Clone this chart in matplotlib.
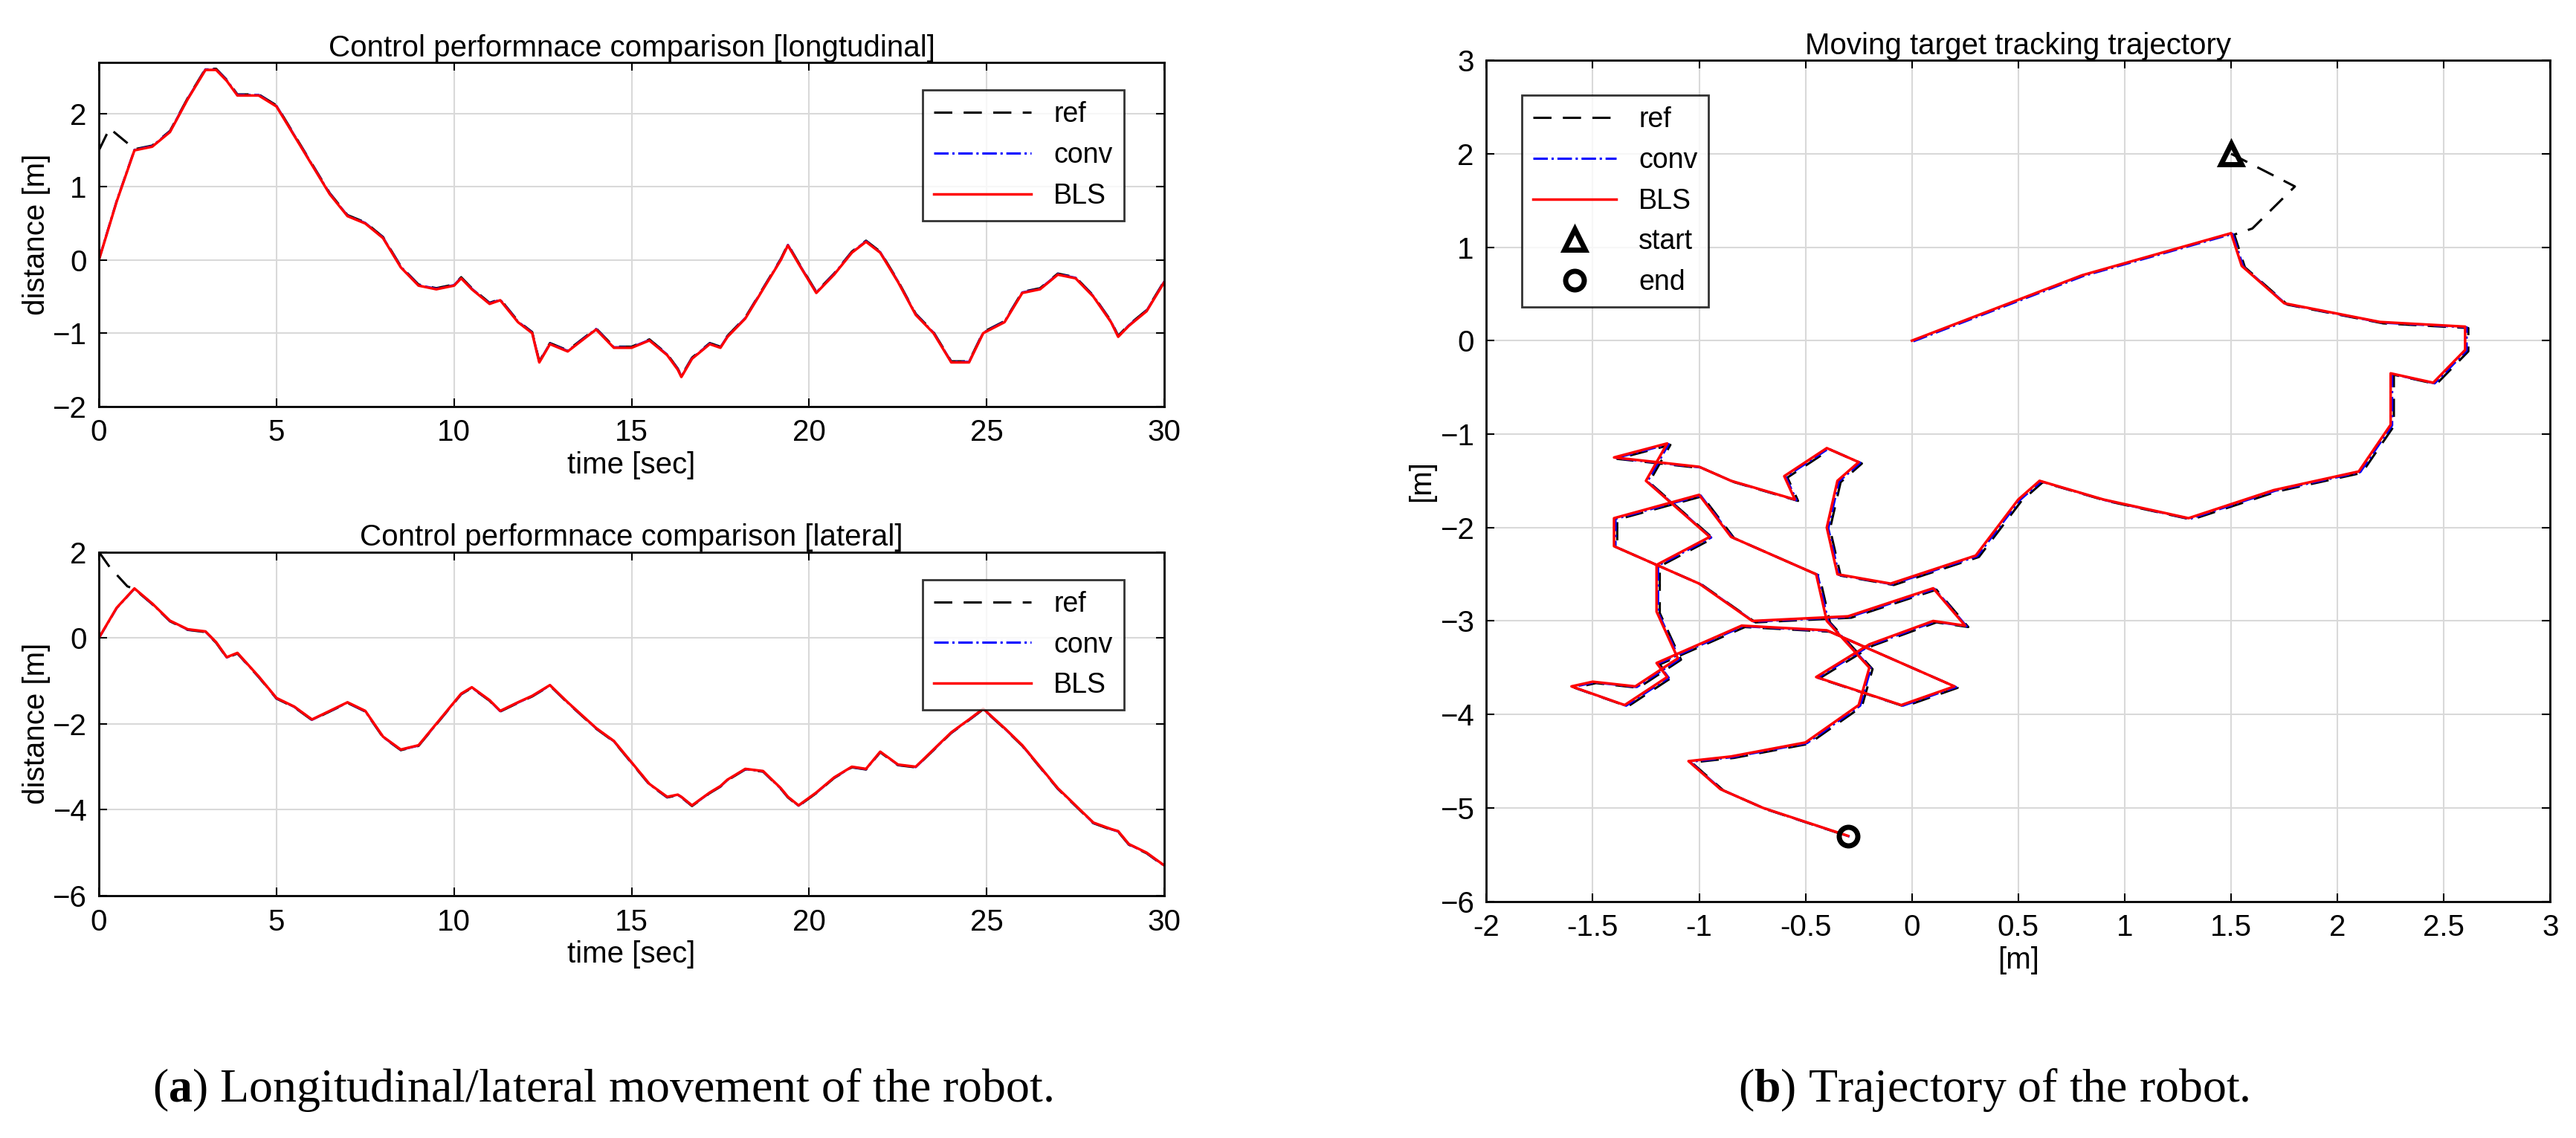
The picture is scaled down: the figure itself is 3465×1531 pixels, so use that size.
import matplotlib
matplotlib.use('Agg')
import matplotlib.pyplot as plt
import numpy as np

# time keypoints [sec] with longitudinal (x) and lateral (y) positions [m]
t = [0, 0.5, 1, 1.5, 2, 2.5, 3, 3.3, 3.6, 3.9, 4.5, 5, 5.5, 6, 6.5, 7, 7.5, 8, 8.5, 9,
     9.5, 10, 10.2, 10.5, 11, 11.3, 11.8, 12.2, 12.4, 12.7, 13.2, 13.6, 14, 14.5, 15,
     15.5, 16, 16.3, 16.4, 16.7, 17.2, 17.5, 17.7, 18.2, 18.7, 19.2, 19.4, 19.7, 20.2,
     20.7, 21.2, 21.6, 22, 22.5, 23, 23.5, 24, 24.5, 24.9, 25.5, 26, 26.5, 27, 27.5,
     28, 28.5, 28.7, 29, 29.5, 30]
x_bls = [0, 0.8, 1.5, 1.55, 1.75, 2.2, 2.6, 2.6, 2.45, 2.25, 2.25, 2.1, 1.7, 1.3, 0.9,
         0.6, 0.5, 0.3, -0.1, -0.35, -0.4, -0.35, -0.25, -0.4, -0.6, -0.55, -0.85, -1.0,
         -1.4, -1.15, -1.25, -1.1, -0.95, -1.2, -1.2, -1.1, -1.3, -1.5, -1.6, -1.35,
         -1.15, -1.2, -1.05, -0.8, -0.4, 0.0, 0.2, -0.05, -0.45, -0.2, 0.1, 0.25, 0.1,
         -0.3, -0.75, -1.0, -1.4, -1.4, -1.0, -0.85, -0.45, -0.4, -0.2, -0.25, -0.5,
         -0.85, -1.05, -0.9, -0.7, -0.3]
y_bls = [0, 0.7, 1.15, 0.8, 0.4, 0.2, 0.15, -0.1, -0.45, -0.35, -0.9, -1.4, -1.6, -1.9,
         -1.7, -1.5, -1.7, -2.3, -2.6, -2.5, -2.0, -1.5, -1.3, -1.15, -1.45, -1.7, -1.5,
         -1.35, -1.25, -1.1, -1.5, -1.8, -2.1, -2.4, -2.9, -3.4, -3.7, -3.65, -3.7, -3.9,
         -3.6, -3.45, -3.3, -3.05, -3.1, -3.5, -3.7, -3.9, -3.6, -3.25, -3.0, -3.05,
         -2.65, -2.95, -3.0, -2.6, -2.2, -1.9, -1.65, -2.1, -2.5, -3.0, -3.5, -3.9, -4.3,
         -4.45, -4.5, -4.8, -5.0, -5.3]
# reference starts elsewhere and meets the robot path after ~1 s
t_ref_start = [0, 0.3, 0.8]
x_ref_start = [1.5, 1.8, 1.6]
y_ref_start = [2.0, 1.65, 1.2]

t_ref = t_ref_start + t[2:]
x_ref = x_ref_start + [v + 0.015 for v in x_bls[2:]]
y_ref = y_ref_start + [v - 0.015 for v in y_bls[2:]]
x_conv = [v + 0.007 for v in x_bls]
y_conv = [v - 0.007 for v in y_bls]

plt.rcParams['font.family'] = ['Liberation Sans', 'DejaVu Sans']
plt.rcParams['mathtext.fontset'] = 'custom'
plt.rcParams['mathtext.bf'] = 'Liberation Serif:bold'
fs = 29

fig = plt.figure(figsize=(34.65, 15.31), dpi=100)


def style(ax):
    ax.grid(True, color='#d9d9d9', linewidth=1.5)
    ax.set_axisbelow(True)
    ax.tick_params(labelsize=fs, direction='in', length=8, width=1.5, top=True, right=True, pad=12)
    for s in ax.spines.values():
        s.set_linewidth(2)


def draw(ax, xr, yr, xc, yc, xb, yb):
    ax.plot(xr, yr, '--', color='k', lw=2.2, dashes=(8, 5), label='ref')
    ax.plot(xc, yc, '-.', color='b', lw=2.2, label='conv')
    ax.plot(xb, yb, '-', color='r', lw=2.5, label='BLS')


ax1 = fig.add_axes([0.0384, 0.643, 0.4136, 0.302])
draw(ax1, t_ref, x_ref, t, x_conv, t, x_bls)
ax1.set_xlim(0, 30)
ax1.set_ylim(-2, 2.7)
ax1.set_yticks([-2, -1, 0, 1, 2])
ax1.set_title('Control performnace comparison [longtudinal]', fontsize=fs)
ax1.set_xlabel('time [sec]', fontsize=fs, labelpad=4)
ax1.set_ylabel('distance [m]', fontsize=fs, labelpad=2)
style(ax1)
ax1.legend(loc='upper right', fontsize=fs - 2, fancybox=False, edgecolor='k',
           handlelength=3.5, bbox_to_anchor=(0.975, 0.96)).get_frame().set_linewidth(2)

ax2 = fig.add_axes([0.0384, 0.213, 0.4136, 0.302])
draw(ax2, t_ref, y_ref, t, y_conv, t, y_bls)
ax2.set_xlim(0, 30)
ax2.set_ylim(-6, 2)
ax2.set_title('Control performnace comparison [lateral]', fontsize=fs)
ax2.set_xlabel('time [sec]', fontsize=fs, labelpad=4)
ax2.set_ylabel('distance [m]', fontsize=fs, labelpad=2)
style(ax2)
ax2.legend(loc='upper right', fontsize=fs - 2, fancybox=False, edgecolor='k',
           handlelength=3.5, bbox_to_anchor=(0.975, 0.96)).get_frame().set_linewidth(2)

ax3 = fig.add_axes([0.577, 0.208, 0.413, 0.739])
draw(ax3, x_ref, y_ref, x_conv, y_conv, x_bls, y_bls)
ax3.plot(x_ref[0], y_ref[0], '^', ms=20, mfc='none', mec='k', mew=5, ls='none', label='start')
ax3.plot(x_bls[-1], y_bls[-1], 'o', ms=18, mfc='none', mec='k', mew=5, ls='none', label='end')
ax3.set_xlim(-2, 3)
ax3.set_ylim(-6, 3)
ax3.set_xticks(np.arange(-2, 3.01, 0.5))
ax3.set_xticklabels(['-2', '-1.5', '-1', '-0.5', '0', '0.5', '1', '1.5', '2', '2.5', '3'])
ax3.set_title('Moving target tracking trajectory', fontsize=fs)
ax3.set_xlabel('[m]', fontsize=fs)
ax3.set_ylabel('[m]', fontsize=fs)
style(ax3)
ax3.legend(loc='upper left', fontsize=fs - 2, fancybox=False, edgecolor='k',
           handlelength=3, bbox_to_anchor=(0.02, 0.975)).get_frame().set_linewidth(2)

cap = dict(fontsize=46, family='Liberation Serif', ha='center', va='center')
fig.text(0.234, 0.042, r'($\mathbf{a}$) Longitudinal/lateral movement of the robot.', **cap)
fig.text(0.774, 0.042, r'($\mathbf{b}$) Trajectory of the robot.', **cap)

fig.savefig('out.png', dpi=100)
